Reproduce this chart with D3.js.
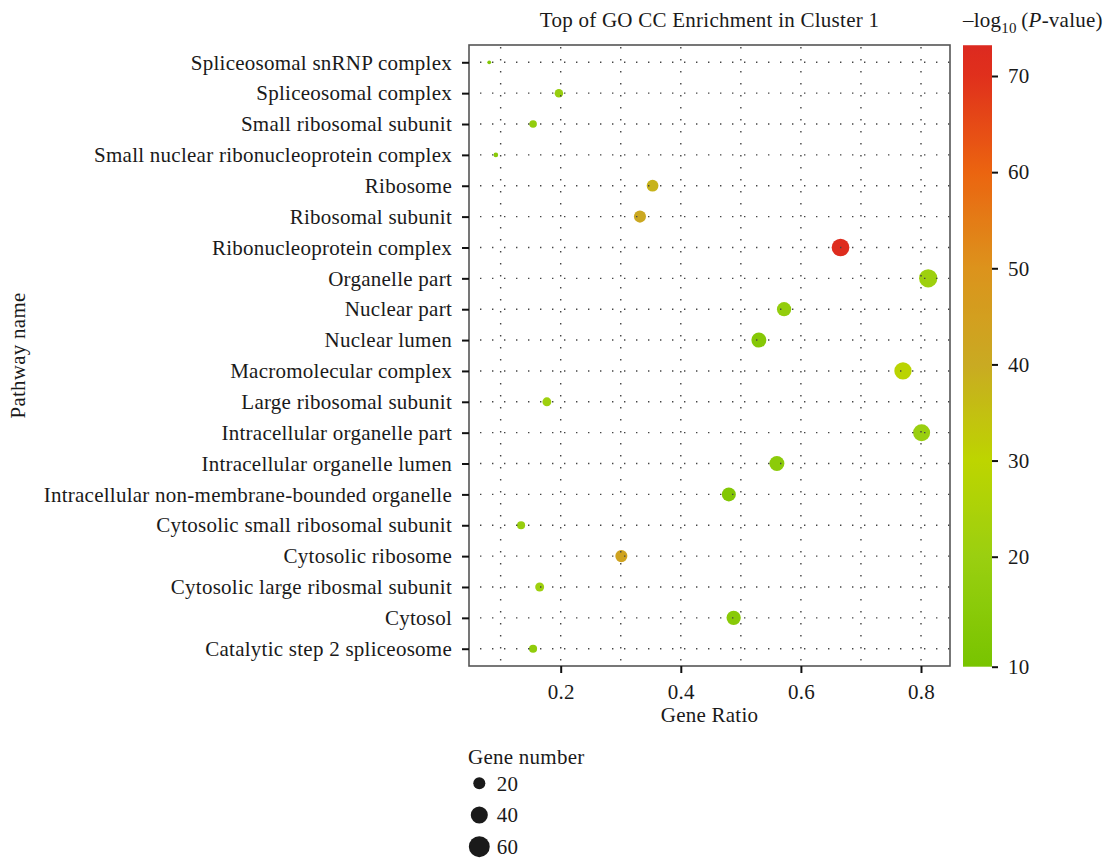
<!DOCTYPE html>
<html lang="en">

<head>
  <meta charset="UTF-8">
  <title>Top of GO CC Enrichment in Cluster 1</title>
  <style>
    html,
    body {
      margin: 0;
      background: #fff;
    }

    text {
      font-family: 'Liberation Serif', 'Times New Roman', serif;
      fill: #1a1a1a;
      letter-spacing: 0.25px;
    }
  </style>
  <script src="https://cdn.jsdelivr.net/npm/d3@7"></script>
</head>

<body>
  <script>
    // 画布大小
    const width = 1105
    const height = 858
    const fontSize = 21

    // 数据（自上而下）
    const categories = [
      'Spliceosomal snRNP complex',
      'Spliceosomal complex',
      'Small ribosomal subunit',
      'Small nuclear ribonucleoprotein complex',
      'Ribosome',
      'Ribosomal subunit',
      'Ribonucleoprotein complex',
      'Organelle part',
      'Nuclear part',
      'Nuclear lumen',
      'Macromolecular complex',
      'Large ribosomal subunit',
      'Intracellular organelle part',
      'Intracellular organelle lumen',
      'Intracellular non-membrane-bounded organelle',
      'Cytosolic small ribosomal subunit',
      'Cytosolic ribosome',
      'Cytosolic large ribosmal subunit',
      'Cytosol',
      'Catalytic step 2 spliceosome'
    ]
    const geneRatio = [0.081, 0.197, 0.154, 0.092, 0.353, 0.332, 0.666, 0.812, 0.572, 0.530,
      0.770, 0.177, 0.801, 0.560, 0.480, 0.134, 0.301, 0.165, 0.488, 0.154]
    const geneCount = [2, 10, 8, 3, 19, 20, 43, 46, 28, 31,
      41, 11, 40, 31, 27, 9, 20, 11, 28, 9]
    const logP = [13, 19, 18, 15, 38, 41, 72, 21, 18, 14,
      29, 21, 20, 16, 13, 19, 43, 21, 15, 17]

    const xTicks = [0.2, 0.4, 0.6, 0.8]
    const xGrid = [0.1, 0.2, 0.3, 0.4, 0.5, 0.6, 0.7, 0.8]
    const colorTicks = [10, 20, 30, 40, 50, 60, 70]
    const colorMax = 73.2
    const sizeBreaks = [20, 40, 60]

    // 绘图区
    const plot = { left: 469, top: 45, right: 950, bottom: 666 }

    const svg = d3.select('body').append('svg')
      .attr('width', width)
      .attr('height', height)

    // 比例尺
    const xScale = d3.scaleLinear()
      .domain([0.0473, 0.8483])
      .range([plot.left, plot.right])

    const yScale = d3.scalePoint()
      .domain(categories)
      .range([plot.top, plot.bottom])
      .padding(0.56)

    const colorScale = d3.scaleLinear()
      .domain([10, 20, 30, 40, 50, 60, 70, colorMax])
      .range(['#78c400', '#9acf10', '#bdd500', '#c9aa22', '#dc931c', '#eb6410', '#e0301c', '#dc2a20'])

    const sizeScale = d3.scaleSqrt()
      .domain([0, 60])
      .range([0, 10.45])

    // 颜色条的位置比例尺
    const barScale = d3.scaleLinear()
      .domain([10, 20, 70])
      .range([666.7, 556.7, 76])

    // 气泡
    svg.append('g').selectAll('circle')
      .data(categories)
      .enter()
      .append('circle')
      .attr('cx', (d, i) => xScale(geneRatio[i]))
      .attr('cy', d => yScale(d))
      .attr('r', (d, i) => sizeScale(geneCount[i]))
      .attr('fill', (d, i) => colorScale(logP[i]))

    // 点状网格（画在气泡上面）
    const grid = svg.append('g')
      .attr('stroke', '#444')
      .attr('stroke-width', 1.4)
      .attr('stroke-dasharray', '1.4,10.6')
    grid.selectAll('.hgrid')
      .data(categories)
      .enter()
      .append('line')
      .attr('x1', plot.left + 11)
      .attr('x2', plot.right)
      .attr('y1', d => yScale(d))
      .attr('y2', d => yScale(d))
    grid.selectAll('.vgrid')
      .data(xGrid)
      .enter()
      .append('line')
      .attr('x1', d => xScale(d))
      .attr('x2', d => xScale(d))
      .attr('y1', plot.top + 2)
      .attr('y2', plot.bottom)

    // 边框
    svg.append('rect')
      .attr('x', plot.left)
      .attr('y', plot.top)
      .attr('width', plot.right - plot.left)
      .attr('height', plot.bottom - plot.top)
      .attr('fill', 'none')
      .attr('stroke', '#555')
      .attr('stroke-width', 1.6)

    // X 轴
    const gx = svg.append('g')
      .attr('transform', `translate(0, ${plot.bottom})`)
      .call(d3.axisBottom(xScale).tickValues(xTicks).tickFormat(d3.format('.1f')).tickSize(7).tickPadding(11))
    gx.select('.domain').remove()

    // Y 轴
    const gy = svg.append('g')
      .attr('transform', `translate(${plot.left}, 0)`)
      .call(d3.axisLeft(yScale).tickSize(7).tickPadding(10))
    gy.select('.domain').remove()

    svg.selectAll('.tick line').attr('stroke', '#111').attr('stroke-width', 2)
    svg.selectAll('.tick text').attr('font-size', fontSize).attr('font-family', null)

    // 标题
    svg.append('text')
      .attr('x', (plot.left + plot.right) / 2)
      .attr('y', 27)
      .attr('text-anchor', 'middle')
      .attr('font-size', fontSize)
      .text('Top of GO CC Enrichment in Cluster 1')

    svg.append('text')
      .attr('x', (plot.left + plot.right) / 2)
      .attr('y', 722)
      .attr('text-anchor', 'middle')
      .attr('font-size', fontSize)
      .text('Gene Ratio')

    svg.append('text')
      .attr('transform', `translate(25, ${(plot.top + plot.bottom) / 2}) rotate(-90)`)
      .attr('text-anchor', 'middle')
      .attr('font-size', fontSize)
      .text('Pathway name')

    // 颜色条
    const defs = svg.append('defs')
    const grad = defs.append('linearGradient')
      .attr('id', 'pgrad')
      .attr('x1', 0).attr('y1', 1).attr('x2', 0).attr('y2', 0)
    const barTop = barScale(colorMax)
    const barBottom = barScale(10)
    d3.range(10, colorMax + 0.01, 1).concat([colorMax]).forEach(v => {
      grad.append('stop')
        .attr('offset', (barBottom - barScale(v)) / (barBottom - barTop))
        .attr('stop-color', colorScale(v))
    })
    svg.append('rect')
      .attr('x', 963)
      .attr('y', barTop)
      .attr('width', 29)
      .attr('height', barBottom - barTop)
      .attr('fill', 'url(#pgrad)')

    const gc = svg.append('g')
      .attr('transform', 'translate(992, 0)')
      .call(d3.axisRight(barScale).tickValues(colorTicks).tickSize(6).tickPadding(10))
    gc.select('.domain').remove()
    gc.selectAll('line').attr('stroke', '#111').attr('stroke-width', 2)
    gc.selectAll('text').attr('font-size', fontSize).attr('font-family', null)

    const ctitle = svg.append('text')
      .attr('x', 963)
      .attr('y', 27)
      .attr('font-size', fontSize)
    ctitle.append('tspan').text('\u2013log')
    ctitle.append('tspan').attr('font-size', 15).attr('dy', 6).text('10')
    ctitle.append('tspan').attr('dy', -6).text('\u2009(')
    ctitle.append('tspan').attr('font-style', 'italic').text('P')
    ctitle.append('tspan').text('-value)')

    // 基因数图例
    svg.append('text')
      .attr('x', 468)
      .attr('y', 764)
      .attr('font-size', fontSize)
      .text('Gene number')

    const legendY = d3.scalePoint().domain(sizeBreaks).range([783.3, 846.7])
    const lg = svg.append('g').selectAll('g')
      .data(sizeBreaks)
      .enter()
      .append('g')
      .attr('transform', d => `translate(479.3, ${legendY(d)})`)
    lg.append('circle')
      .attr('r', d => sizeScale(d))
      .attr('fill', '#1a1a1a')
    lg.append('text')
      .attr('x', 17.4)
      .attr('dy', '0.35em')
      .attr('font-size', fontSize)
      .text(d => d)
  </script>
</body>

</html>
